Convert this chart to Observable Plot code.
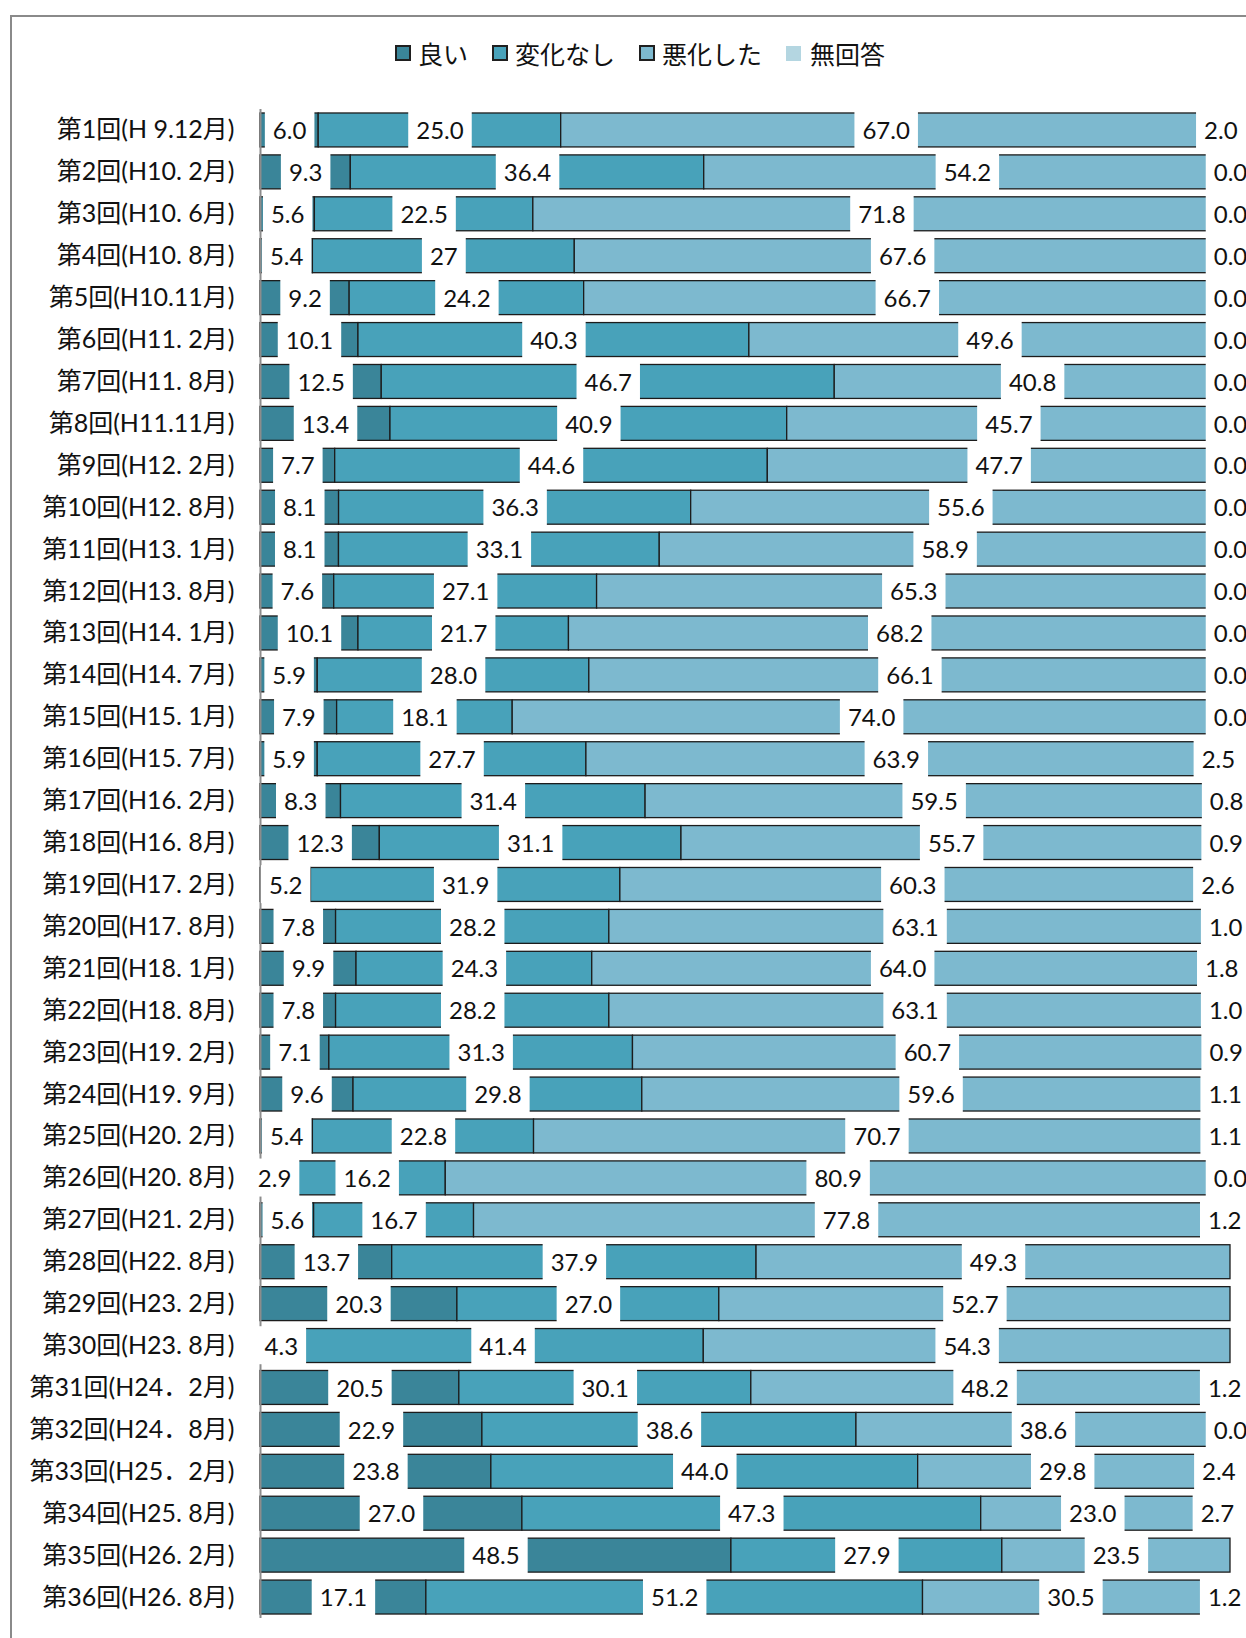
<!DOCTYPE html>
<html>
<head>
<meta charset="utf-8">
<script src="https://cdn.jsdelivr.net/npm/d3@7"></script>
<script src="https://cdn.jsdelivr.net/npm/@observablehq/plot@0.6"></script>
<style>
  html, body { margin: 0; padding: 0; background: #fff; overflow: hidden; }
  #page { position: relative; width: 1246px; height: 1638px; }
  #legendBox { position: relative; height: 90px; }
  #legend { position: absolute; top: 38px; left: 395px; height: 30px; display: flex; align-items: center;
    font-family: "Noto Sans CJK JP", sans-serif; font-size: 25px; color: #111; }
  .item { display: flex; align-items: center; margin-right: 24px; }
  .sw { width: 12px; height: 12px; border: 2px solid #1f1f1f; margin-right: 7px; }
  .sw.nob { width: 15px; height: 15px; border: none; margin-right: 9px; }
  #frame { position: absolute; left: 10px; top: 15px; width: 1300px; height: 1700px;
    border-left: 2px solid #8a8a8a; border-top: 2px solid #8a8a8a; pointer-events: none; }
</style>
</head>
<body>
<div id="page">
  <div id="legendBox"><div id="legend"></div></div>
  <div id="chart"></div>
  <div id="frame"></div>
</div>
<script>
const rounds = ["第1回(H 9.12月)", "第2回(H10. 2月)", "第3回(H10. 6月)", "第4回(H10. 8月)", "第5回(H10.11月)",
  "第6回(H11. 2月)", "第7回(H11. 8月)", "第8回(H11.11月)", "第9回(H12. 2月)", "第10回(H12. 8月)",
  "第11回(H13. 1月)", "第12回(H13. 8月)", "第13回(H14. 1月)", "第14回(H14. 7月)", "第15回(H15. 1月)",
  "第16回(H15. 7月)", "第17回(H16. 2月)", "第18回(H16. 8月)", "第19回(H17. 2月)", "第20回(H17. 8月)",
  "第21回(H18. 1月)", "第22回(H18. 8月)", "第23回(H19. 2月)", "第24回(H19. 9月)", "第25回(H20. 2月)",
  "第26回(H20. 8月)", "第27回(H21. 2月)", "第28回(H22. 8月)", "第29回(H23. 2月)", "第30回(H23. 8月)",
  "第31回(H24．2月)", "第32回(H24．8月)", "第33回(H25．2月)", "第34回(H25. 8月)", "第35回(H26. 2月)",
  "第36回(H26. 8月)"];

const good = ["6.0","9.3","5.6","5.4","9.2","10.1","12.5","13.4","7.7","8.1","8.1","7.6","10.1","5.9","7.9",
  "5.9","8.3","12.3","5.2","7.8","9.9","7.8","7.1","9.6","5.4","2.9","5.6","13.7","20.3","4.3",
  "20.5","22.9","23.8","27.0","48.5","17.1"];
const noChange = ["25.0","36.4","22.5","27","24.2","40.3","46.7","40.9","44.6","36.3","33.1","27.1","21.7","28.0","18.1",
  "27.7","31.4","31.1","31.9","28.2","24.3","28.2","31.3","29.8","22.8","16.2","16.7","37.9","27.0","41.4",
  "30.1","38.6","44.0","47.3","27.9","51.2"];
const worse = ["67.0","54.2","71.8","67.6","66.7","49.6","40.8","45.7","47.7","55.6","58.9","65.3","68.2","66.1","74.0",
  "63.9","59.5","55.7","60.3","63.1","64.0","63.1","60.7","59.6","70.7","80.9","77.8","49.3","52.7","54.3",
  "48.2","38.6","29.8","23.0","23.5","30.5"];
const noAnswer = ["2.0","0.0","0.0","0.0","0.0","0.0","0.0","0.0","0.0","0.0","0.0","0.0","0.0","0.0","0.0",
  "2.5","0.8","0.9","2.6","1.0","1.8","1.0","0.9","1.1","1.1","0.0","1.2",null,null,null,
  "1.2","0.0","2.4","2.7",null,"1.2"];

const seriesNames = ["良い", "変化なし", "悪化した", "無回答"];
const seriesColors = ["#3a8599", "#48a2ba", "#7db9cf", "#b4d6e1"];

// legend
const legend = document.getElementById("legend");
seriesNames.forEach((n, i) => {
  const it = document.createElement("div"); it.className = "item";
  const sw = document.createElement("div"); sw.className = "sw" + (i === 3 ? " nob" : "");
  sw.style.background = seriesColors[i];
  const tx = document.createElement("span"); tx.textContent = n;
  it.append(sw, tx); legend.append(it);
});

// long table (one row per segment)
const seriesArrays = [good, noChange, worse, noAnswer];
const table = rounds.flatMap((r, i) =>
  seriesArrays.map((arr, k) => arr[i] == null ? null : {round: r, series: seriesNames[k], text: arr[i], value: +arr[i]})
    .filter(Boolean));

const stackOpts = {x: "value", y: "round", z: "series", offset: "normalize", order: seriesNames};

const chart = Plot.plot({
  width: 1246,
  height: 1548,
  marginLeft: 260,
  marginRight: 16,
  marginTop: 19,
  marginBottom: 20,
  style: {fontFamily: "Lato, 'Noto Sans CJK JP', sans-serif", fontSize: "25px", color: "#111", background: "transparent"},
  x: {domain: [0, 1], axis: null},
  y: {domain: rounds, label: null, tickSize: 0, tickPadding: 26, paddingInner: 0.19, paddingOuter: 0.095},
  color: {domain: seriesNames, range: seriesColors},
  marks: [
    Plot.barX(table, Plot.stackX({...stackOpts, fill: "series", stroke: "#1c1c1c", strokeWidth: 1.3})),
    Plot.ruleX([0], {stroke: "#8c8c8c", strokeWidth: 2}),
    Plot.text(table, Plot.stackX({...stackOpts, text: "text", fontSize: 24, fontFamily: "Lato, sans-serif", fill: "#111", dy: 1}))
  ]
});
document.getElementById("chart").append(chart);

// white boxes behind the segment labels (the last group of texts that is not an axis)
const ns = "http://www.w3.org/2000/svg";
const groups = [...chart.querySelectorAll("g")].filter(g =>
  g.querySelector(":scope > text") && !(g.getAttribute("aria-label") || "").includes("axis"));
const tg = groups[groups.length - 1];
if (tg) {
  const bg = document.createElementNS(ns, "g");
  if (tg.getAttribute("transform")) bg.setAttribute("transform", tg.getAttribute("transform"));
  for (const t of tg.querySelectorAll(":scope > text")) {
    const b = t.getBBox();
    const r = document.createElementNS(ns, "rect");
    const cy = b.y + b.height / 2;
    r.setAttribute("x", b.x - 8);
    r.setAttribute("width", b.width + 16);
    r.setAttribute("y", cy - 19);
    r.setAttribute("height", 38);
    r.setAttribute("fill", "#ffffff");
    if (t.getAttribute("transform")) r.setAttribute("transform", t.getAttribute("transform"));
    bg.appendChild(r);
  }
  tg.parentNode.insertBefore(bg, tg);
}
</script>
</body>
</html>
